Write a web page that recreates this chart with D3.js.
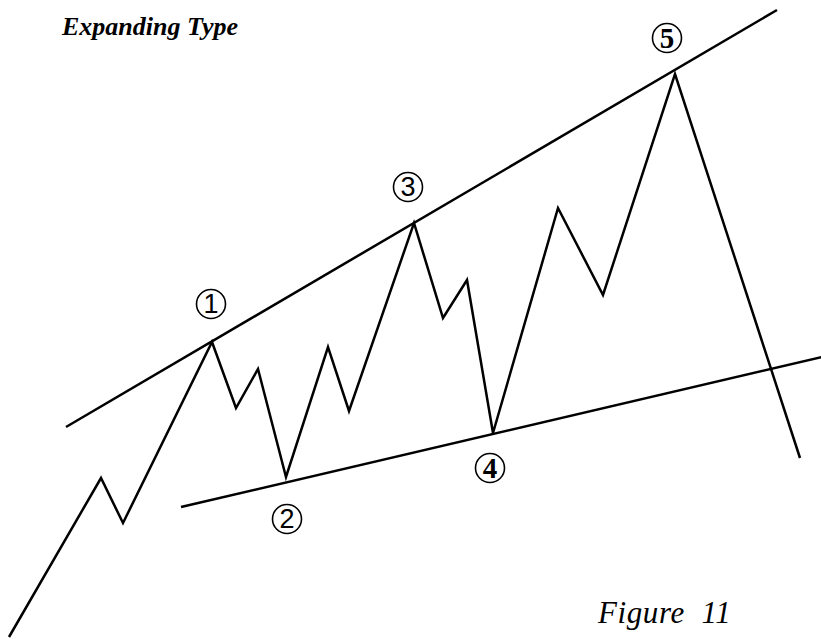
<!DOCTYPE html>
<html>
<head>
<meta charset="utf-8">
<script src="https://cdn.jsdelivr.net/npm/d3@7"></script>
<style>
  html, body { margin: 0; padding: 0; background: #fff; }
  svg { display: block; }
</style>
</head>
<body>
<script>
// Wave path (time units, price units)
const waveTime  = [9, 101, 123, 212, 236, 258, 286, 328, 349, 414, 443, 467, 493, 558, 603, 675, 800];
const wavePrice = [2, 161, 116, 297, 231, 270, 162, 292, 228, 416, 321, 359, 206, 431, 344, 565, 181];

// Trend lines: [start, end]
const upperTime  = [66, 777];
const upperPrice = [212, 629];
const lowerTime  = [181, 826];
const lowerPrice = [132, 283];

// Wave labels
const labelText  = ['1', '2', '3', '4', '5'];
const labelTime  = [211, 287, 408, 490, 667];
const labelPrice = [335, 120, 452, 171, 601];
const labelBold  = [false, false, false, true, true];

const width = 821, height = 639;

const svg = d3.select('body').append('svg')
    .attr('width', width)
    .attr('height', height);

const x = d3.scaleLinear().domain([0, width]).range([0, width]);
const y = d3.scaleLinear().domain([0, height]).range([height, 0]);

const line = d3.line()
    .x(d => x(d[0]))
    .y(d => y(d[1]));

// Trend lines
[d3.zip(upperTime, upperPrice), d3.zip(lowerTime, lowerPrice)].forEach(pts => {
    svg.append('path')
        .datum(pts)
        .attr('d', line)
        .attr('fill', 'none')
        .attr('stroke', '#000')
        .attr('stroke-width', 2.5);
});

// Wave
svg.append('path')
    .datum(d3.zip(waveTime, wavePrice))
    .attr('d', line)
    .attr('fill', 'none')
    .attr('stroke', '#000')
    .attr('stroke-width', 2.5)
    .attr('stroke-linejoin', 'miter');

// Circled labels
const labels = svg.selectAll('.wave-label')
    .data(labelText.map((t, i) => ({ t, x: labelTime[i], y: labelPrice[i], bold: labelBold[i] })))
    .join('g')
    .attr('class', 'wave-label')
    .attr('transform', d => `translate(${x(d.x)},${y(d.y)})`);

labels.append('circle')
    .attr('r', 14.5)
    .attr('fill', '#fff')
    .attr('stroke', '#000')
    .attr('stroke-width', 1.6);

labels.append('text')
    .attr('text-anchor', 'middle')
    .attr('dy', '0.35em')
    .style('font-family', d => d.bold ? '"Liberation Serif", serif' : '"Liberation Sans", Arial, sans-serif')
    .style('font-weight', d => d.bold ? 'bold' : 'normal')
    .style('font-size', d => d.bold ? '29px' : '27px')
    .text(d => d.t);

// Titles
svg.append('text')
    .attr('x', 62)
    .attr('y', 35)
    .style('font-family', '"Liberation Serif", serif')
    .style('font-style', 'italic')
    .style('font-weight', 'bold')
    .style('font-size', '26px')
    .text('Expanding Type');

svg.append('text')
    .attr('x', 598)
    .attr('y', 623)
    .style('font-family', '"Liberation Serif", serif')
    .style('font-style', 'italic')
    .style('font-size', '31px')
    .style('letter-spacing', '0.6px')
    .style('white-space', 'pre')
    .text('Figure  11');
</script>
</body>
</html>
